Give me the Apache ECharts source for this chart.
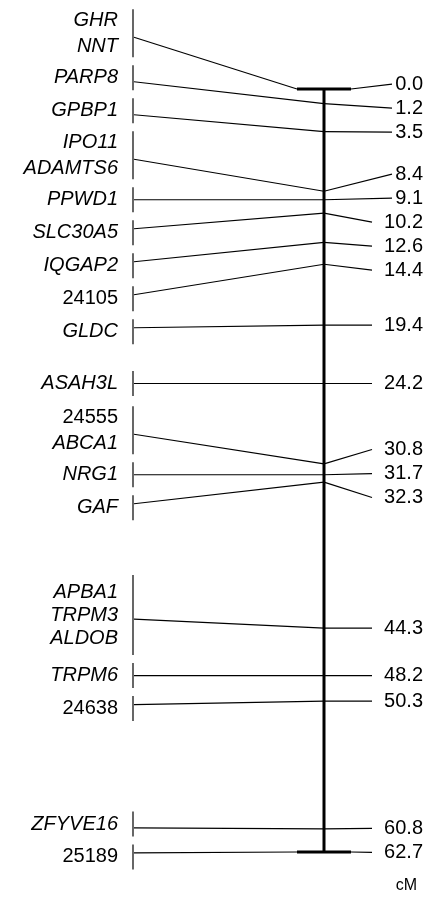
<!DOCTYPE html>
<html>
<head>
<meta charset="utf-8">
<script src="https://cdn.jsdelivr.net/npm/echarts@6/dist/echarts.min.js"></script>
<style>
  html, body { margin: 0; padding: 0; background: #ffffff; }
  #chart { width: 430px; height: 912px; }
</style>
</head>
<body>
<div id="chart"></div>
<script>
// ---- Data ----
const positionsCM = [0.0, 1.2, 3.5, 8.4, 9.1, 10.2, 12.6, 14.4, 19.4, 24.2, 30.8, 31.7, 32.3, 44.3, 48.2, 50.3, 60.8, 62.7];
const positionLabels = ['0.0', '1.2', '3.5', '8.4', '9.1', '10.2', '12.6', '14.4', '19.4', '24.2', '30.8', '31.7', '32.3', '44.3', '48.2', '50.3', '60.8', '62.7'];
const markerGroups = [
  ['GHR', 'NNT'], ['PARP8'], ['GPBP1'], ['IPO11', 'ADAMTS6'], ['PPWD1'], ['SLC30A5'],
  ['IQGAP2'], ['24105'], ['GLDC'], ['ASAH3L'], ['24555', 'ABCA1'], ['NRG1'], ['GAF'],
  ['APBA1', 'TRPM3', 'ALDOB'], ['TRPM6'], ['24638'], ['ZFYVE16'], ['25189']
];
const unitLabel = 'cM';

// ---- Layout / style constants ----
const FONT = '"Liberation Sans", Arial, Helvetica, sans-serif';
const TICK_X = 133, LABEL_RIGHT_X = 118, BAR_X = 324, CAP_HALF = 27;
const NUM_RIGHT_X = 423;
const BLOCK_H = [0, 25, 48, 80];
const BLOCK_GAP = 8, RIGHT_SPACING = 24;

function centreOf(vals, useMedian) {
  if (!useMedian) return vals.reduce((s, v) => s + v, 0) / vals.length;
  const s = vals.slice().sort((a, b) => a - b);
  const m = Math.floor(s.length / 2);
  return s.length % 2 ? s[m] : (s[m - 1] + s[m]) / 2;
}

// spread labels around their desired centres without overlap (adjacent clusters merged)
function spread(des, sz, gap, useMedian) {
  const cl = [];
  const posOf = c => centreOf(c.idx.map((j, k) => des[j] - c.rel[k]), useMedian);
  des.forEach((d, i) => {
    cl.push({ idx: [i], rel: [0] });
    while (cl.length > 1) {
      const b = cl[cl.length - 1], a = cl[cl.length - 2];
      const aLastRel = a.rel[a.rel.length - 1];
      const aLast = posOf(a) + aLastRel;
      const need = sz[a.idx[a.idx.length - 1]] / 2 + gap + sz[b.idx[0]] / 2;
      if (posOf(b) - aLast >= need) break;
      const shift = aLastRel + need;
      b.idx.forEach((j, k) => { a.idx.push(j); a.rel.push(b.rel[k] + shift); });
      cl.pop();
    }
  });
  const out = [];
  cl.forEach(c => { const p = posOf(c); c.idx.forEach((j, k) => { out[j] = p + c.rel[k]; }); });
  return out;
}

const chart = echarts.init(document.getElementById('chart'), null, { renderer: 'canvas' });

function renderMap(params, api) {
  const n = positionsCM.length;
  const yOf = v => api.coord([0, v])[1];
  const xOf = v => api.coord([v, 0])[0];
  const junction = positionsCM.map(yOf);
  const sizes = markerGroups.map(g => BLOCK_H[g.length]);
  const leftC = spread(junction, sizes, BLOCK_GAP, true);
  const rightC = spread(junction, junction.map(() => RIGHT_SPACING), 0, false);
  const barX = xOf(BAR_X), tickX = xOf(TICK_X);
  const children = [];
  const lineStyle = { stroke: '#000', lineWidth: 1.2 };

  for (let i = 0; i < n; i++) {
    const g = markerGroups[i];
    const c = leftC[i], h = sizes[i];
    const terminal = (i === 0 || i === n - 1);
    children.push({ type: 'line', shape: { x1: tickX, y1: c - h / 2, x2: tickX, y2: c + h / 2 }, style: lineStyle });
    const step = g.length === 2 ? 26 : 23;
    g.forEach((name, k) => {
      const ty = c + (k - (g.length - 1) / 2) * step;
      children.push({
        type: 'text',
        style: {
          text: name, x: xOf(LABEL_RIGHT_X), y: ty,
          align: 'right', verticalAlign: 'middle',
          textAlign: 'right', textVerticalAlign: 'middle',
          fontSize: 20, fontFamily: FONT,
          fontStyle: /^\d+$/.test(name) ? 'normal' : 'italic',
          fill: '#000'
        }
      });
    });
    const cy = Math.max(c - 4, Math.min(c + 4, junction[i]));
    children.push({
      type: 'line',
      shape: { x1: tickX + 1, y1: cy, x2: terminal ? barX - CAP_HALF : barX, y2: junction[i] },
      style: lineStyle
    });
    const lab = positionLabels[i];
    const endX = xOf(lab.length <= 3 ? 392 : 372);
    children.push({
      type: 'line',
      shape: { x1: terminal ? barX + CAP_HALF : barX, y1: junction[i], x2: endX, y2: rightC[i] },
      style: lineStyle
    });
    children.push({
      type: 'text',
      style: {
        text: lab, x: xOf(NUM_RIGHT_X), y: rightC[i],
        align: 'right', verticalAlign: 'middle',
        textAlign: 'right', textVerticalAlign: 'middle',
        fontSize: 20, fontFamily: FONT, fill: '#000'
      }
    });
  }
  const yTop = junction[0], yBot = junction[n - 1];
  const barStyle = { stroke: '#000', lineWidth: 3 };
  children.push({ type: 'line', shape: { x1: barX, y1: yTop, x2: barX, y2: yBot }, style: barStyle });
  children.push({ type: 'line', shape: { x1: barX - CAP_HALF, y1: yTop, x2: barX + CAP_HALF, y2: yTop }, style: barStyle });
  children.push({ type: 'line', shape: { x1: barX - CAP_HALF, y1: yBot, x2: barX + CAP_HALF, y2: yBot }, style: barStyle });
  return { type: 'group', children: children };
}

chart.setOption({
  animation: false,
  backgroundColor: '#ffffff',
  grid: { left: 0, right: 0, top: 89, bottom: 60 },
  xAxis: { type: 'value', min: 0, max: 430, show: false },
  yAxis: { type: 'value', min: 0, max: positionsCM[positionsCM.length - 1], inverse: true, show: false },
  graphic: [{
    type: 'text', right: 13, bottom: 18,
    style: { text: unitLabel, fontSize: 16, fontFamily: FONT, fill: '#000' }
  }],
  series: [{
    type: 'custom',
    clip: false,
    silent: true,
    renderItem: renderMap,
    data: [[0, 0]]
  }]
});
</script>
</body>
</html>
